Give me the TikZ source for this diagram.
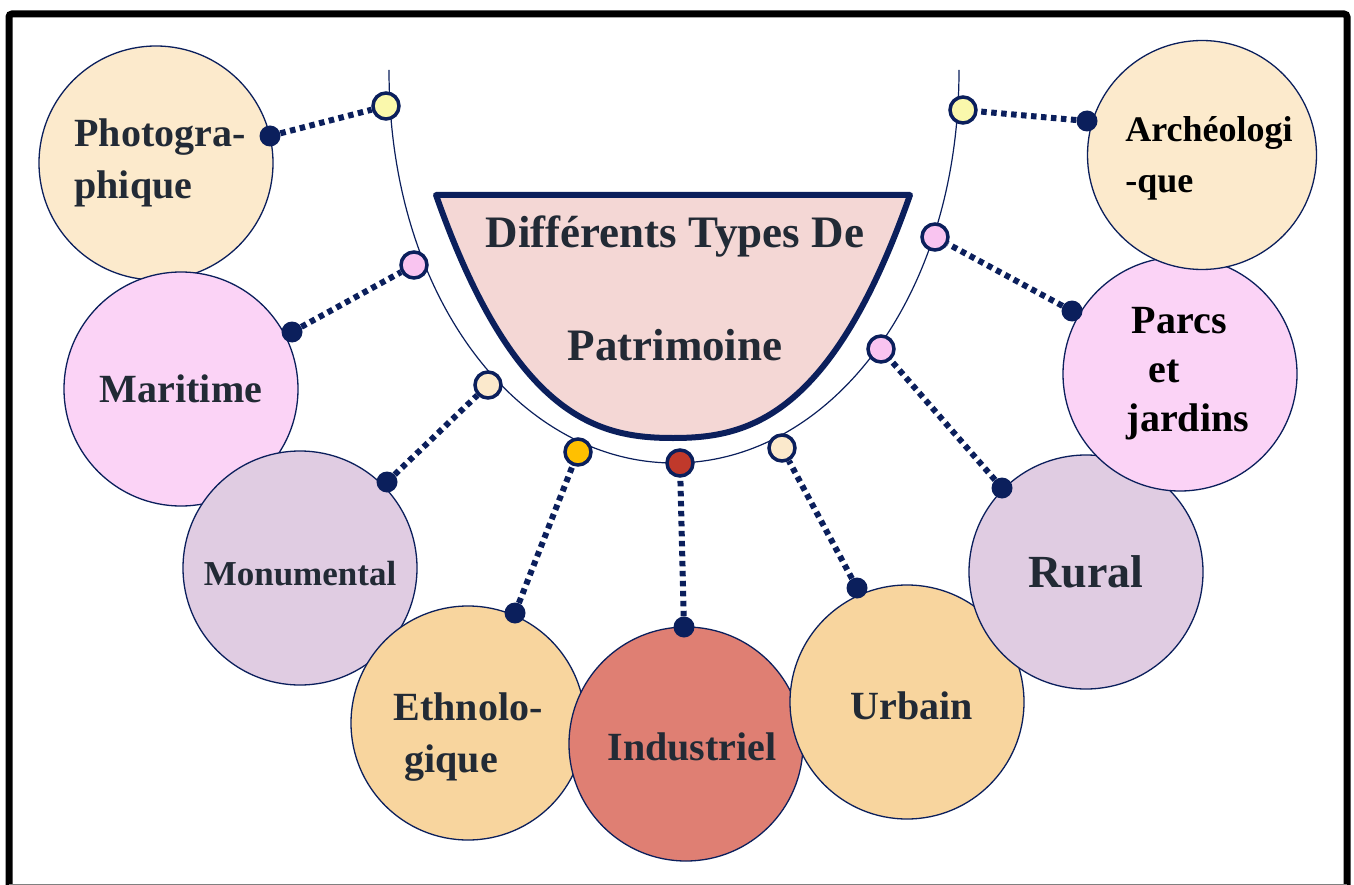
\documentclass[tikz,border=0pt]{standalone}
\usepackage{fontspec}
\setmainfont{Liberation Serif}
\usetikzlibrary{shapes.geometric}

\definecolor{navy}{HTML}{0B1F5C}
\definecolor{ink}{HTML}{222A35}
\definecolor{peach}{HTML}{FCEACC}
\definecolor{rose}{HTML}{FBD3F6}
\definecolor{lilac}{HTML}{E0CCE2}
\definecolor{apricot}{HTML}{F8D59E}
\definecolor{salmon}{HTML}{DF7F73}
\definecolor{blush}{HTML}{F4D7D5}
\definecolor{lemon}{HTML}{FAF8AC}
\definecolor{gold}{HTML}{FFC000}
\definecolor{brick}{HTML}{C0392B}
\definecolor{cream}{HTML}{FBE9CC}
\definecolor{pinkring}{HTML}{F9C4F0}

\begin{document}
\begin{tikzpicture}[x=1pt,y=-1pt,
  type/.style={circle,draw=navy,line width=1.3pt,minimum size=234pt,inner sep=0pt,text=ink,align=left,font=\bfseries\fontsize{40}{52}\selectfont},
  ring/.style={circle,draw=navy,line width=3.5pt,minimum size=26pt,inner sep=0pt},
  knob/.style={circle,fill=navy,minimum size=21pt,inner sep=0pt},
  link/.style={navy,line width=6pt,dash pattern=on 5.5pt off 4.5pt}]
\useasboundingbox (0,0) rectangle (1354,885);
\draw[line width=7pt,rounded corners=3pt] (9,890) -- (9,14) -- (1347,14) -- (1347,890);
\draw[gray,line width=1.2pt] (9,884.4) -- (1347,884.4);

% arc round the title
\draw[navy,line width=1.2pt] (389,70) .. controls (389,300) and (520,463) .. (674,463) .. controls (828,463) and (959,300) .. (959,70);

\draw[navy,line width=6pt,fill=blush,line join=round] (436,195) .. controls (515,420) and (600,438) .. (673,438) .. controls (746,438) and (831,420) .. (910,195) -- cycle;
\node[text=ink,align=center,font=\bfseries\fontsize{45}{113}\selectfont] (title) at (675,288) {Différents Types De\\Patrimoine};

% the nine types
\node[type,fill=peach] (photo) at (156,163) {\hspace*{8pt}Photogra-\\\hspace*{8pt}phique};
\node[type,fill=rose] (mari) at (181,389) {Maritime};
\node[type,fill=lilac,font=\bfseries\fontsize{35}{42}\selectfont] (monu) at (300,568) {\rule{0pt}{36pt}Monumental};
\node[type,fill=apricot] (ethno) at (468,723) {\rule{0pt}{55pt}Ethnolo-\\\hspace*{11pt}gique};
\node[type,fill=salmon] (indus) at (686,744) {\rule{0pt}{34pt}\hspace*{12pt}Industriel};
\node[type,fill=apricot] (urb) at (907,702) {\rule{0pt}{36pt}\hspace*{10pt}Urbain};
\node[type,fill=lilac,font=\bfseries\fontsize{46}{52}\selectfont] (rur) at (1086,572) {Rural};
\node[type,fill=rose,text=black,font=\bfseries\fontsize{40}{49}\selectfont] (parcs) at (1180,374) {\hspace*{21pt}Parcs\\\hspace*{38pt}et\\\hspace*{16pt}jardins};
\node[type,minimum size=229pt,fill=peach,text=black,font=\bfseries\fontsize{36}{51}\selectfont] (arch) at (1202,155) {\rule{0pt}{32pt}\hspace*{14pt}Archéologi\\\hspace*{14pt}-que};

% dots and rings
\node[knob] (k1) at (270,136) {};
\node[knob] (k2) at (292,332) {};
\node[knob] (k3) at (387,482) {};
\node[knob] (k4) at (515,613) {};
\node[knob] (k5) at (684,627) {};
\node[knob] (k6) at (857,588) {};
\node[knob] (k7) at (1002,488) {};
\node[knob] (k8) at (1072,311) {};
\node[knob] (k9) at (1087,121) {};
\node[ring,fill=lemon] (r1) at (386,106) {};
\node[ring,fill=pinkring] (r2) at (414,265) {};
\node[ring,fill=cream] (r3) at (488,385) {};
\node[ring,fill=gold] (r4) at (578,452) {};
\node[ring,fill=brick] (r5) at (680,463) {};
\node[ring,fill=cream] (r6) at (782,448) {};
\node[ring,fill=pinkring] (r7) at (881,349) {};
\node[ring,fill=pinkring] (r8) at (935,237) {};
\node[ring,fill=lemon] (r9) at (963,110) {};

\draw[link] (k1) -- (r1);
\draw[link] (k2) -- (r2);
\draw[link] (k3) -- (r3);
\draw[link] (k4) -- (r4);
\draw[link] (k5) -- (r5);
\draw[link] (k6) -- (r6);
\draw[link] (k7) -- (r7);
\draw[link] (k8) -- (r8);
\draw[link] (k9) -- (r9);
\end{tikzpicture}
\end{document}
